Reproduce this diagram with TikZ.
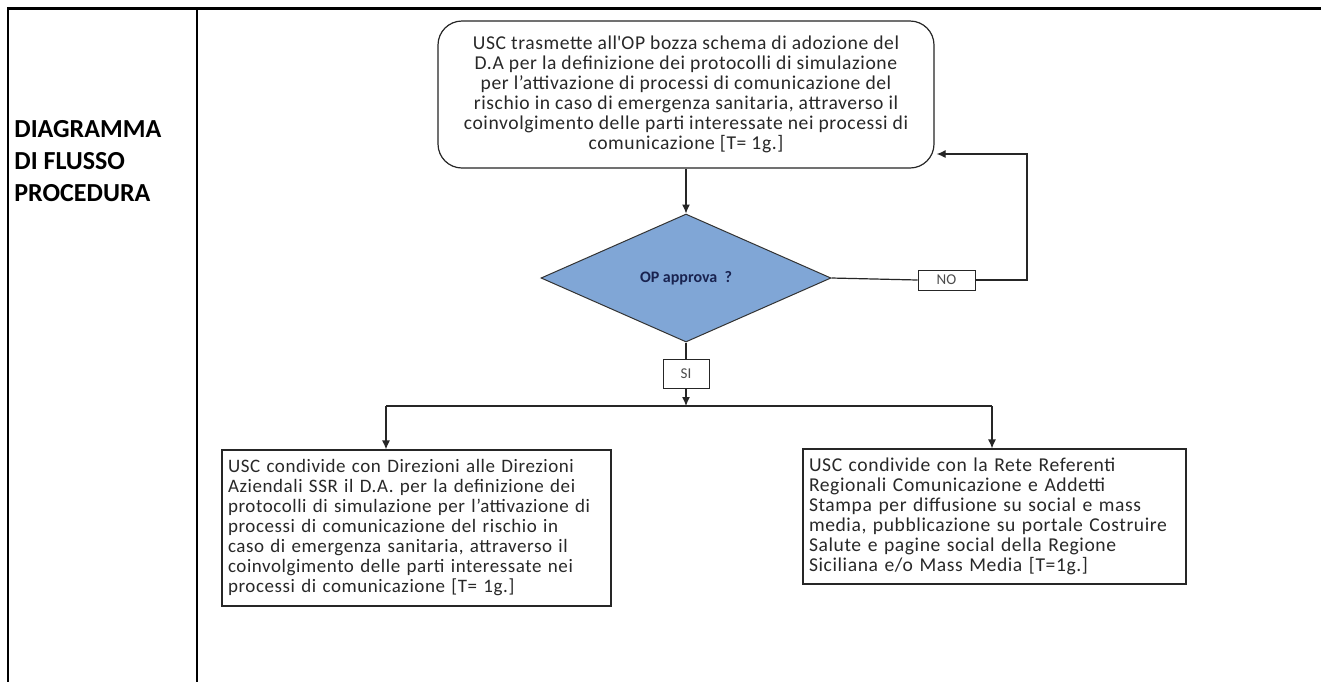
\documentclass[tikz,border=0pt]{standalone}
\usepackage{fontspec}
\setmainfont{Carlito}
\newfontfamily\boxfont[LetterSpace=3]{Carlito}
\usetikzlibrary{shapes.geometric,arrows.meta}
\definecolor{dfill}{RGB}{128,166,214}
\definecolor{ink}{RGB}{40,40,40}
\definecolor{navy}{RGB}{25,35,80}
\begin{document}
\begin{tikzpicture}[x=0.5pt,y=-0.5pt,
  proc/.style={draw=black!85, line width=0.6pt, fill=white, text=ink,
    font=\boxfont\fontsize{9.8}{10}\selectfont, inner sep=0pt},
  tag/.style={draw=black!85, line width=0.5pt, fill=white, text=black!70,
    font=\fontsize{7.5}{9}\selectfont, inner sep=0pt},
  link/.style={draw=black!85, line width=0.6pt},
  arr/.style={link, -{Latex[length=4.5pt,width=4pt]}},
  rule/.style={draw=black, line width=1pt}]
\useasboundingbox[fill=white] (0,0) rectangle (1321,682);

% table frame
\draw[rule, line width=1.5pt] (7,8) -- (1321,8);
\draw[rule] (8,8) -- (8,682);
\draw[rule] (197,8) -- (197,682);

% row heading
\node[anchor=west, align=left, inner sep=0pt, font=\bfseries\fontsize{13}{16.2}\selectfont] (lbl)
  at (14,161) {DIAGRAMMA\\DI FLUSSO\\PROCEDURA};

% flow chart
\node[proc, rounded corners=12pt, minimum width=248pt, minimum height=73.5pt, align=center]
  (top) at (686,94.5)
  {USC trasmette all\textquotesingle OP bozza schema di adozione del\\
   D.A per la definizione dei protocolli di simulazione\\
   per l’attivazione di processi di comunicazione del\\
   rischio in caso di emergenza sanitaria, attraverso il\\
   coinvolgimento delle parti interessate nei processi di\\
   comunicazione [T= 1g.]};

\node[diamond, draw=black!80, line width=0.5pt, fill=dfill, aspect=2.27, inner sep=0pt,
  minimum width=145pt, minimum height=64pt, text=navy,
  font=\bfseries\fontsize{8}{9}\selectfont] (dia) at (686,278) {OP approva \ ?};

\node[tag, minimum width=28.5pt, minimum height=10pt] (no) at (946.5,280) {NO};
\node[tag, minimum width=23pt, minimum height=14.5pt] (si) at (686,373.5) {SI};

\node[proc, font=\boxfont\fontsize{9.5}{10}\selectfont, minimum width=194.5pt,
  minimum height=78pt, text width=188.5pt, align=left, inner xsep=3pt]
  (lbox) at (416.5,528)
  {USC condivide con Direzioni alle Direzioni\\
   Aziendali SSR il D.A. per la definizione dei\\
   protocolli di simulazione per l’attivazione di\\
   processi di comunicazione del rischio in\\
   caso di emergenza sanitaria, attraverso il\\
   coinvolgimento delle parti interessate nei\\
   processi di comunicazione [T= 1g.]};

\node[proc, minimum width=191.5pt, minimum height=67.5pt, text width=185.5pt,
  align=left, inner xsep=3pt] (rbox) at (994.5,516.5)
  {USC condivide con la Rete Referenti\\
   Regionali Comunicazione e Addetti\\
   Stampa per diffusione su social e mass\\
   media, pubblicazione su portale Costruire\\
   Salute e pagine social della Regione\\
   Siciliana e/o Mass Media [T=1g.]};

% connectors
\draw[arr] (top.south) -- (dia.north);
\coordinate (ret) at (1027,154);
\draw[link] (dia.east) -- (no.west);
\draw[arr, shorten >=1pt] (no.east) -| (ret) -- (ret -| top.east);
\draw[link] (dia.south) -- (si.north);
\coordinate (bar) at (686,406);
\coordinate (barL) at (386,406);
\coordinate (barR) at (992,406);
\draw[arr] (si.south) -- (bar);
\draw[link] (barL) -- (barR);
\draw[arr] (barL) -- (barL |- lbox.north);
\draw[arr] (barR) -- (barR |- rbox.north);
\end{tikzpicture}
\end{document}
